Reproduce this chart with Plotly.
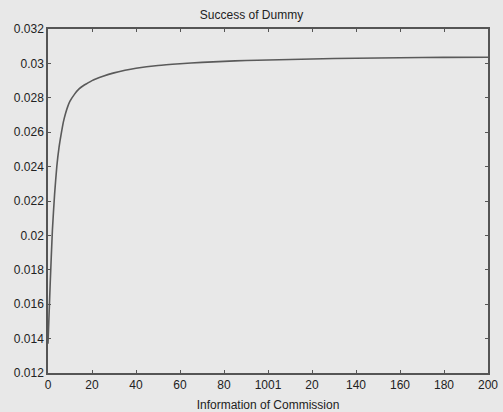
import plotly.graph_objects as go

x_vals = [0, 1, 2, 3, 4, 5, 6, 7, 8, 9, 10, 12, 14, 16, 18, 20, 25, 30, 35, 40, 50,
          60, 70, 80, 90, 100, 120, 140, 160, 180, 200]
y_vals = [0.0137, 0.0172, 0.0203, 0.0224, 0.0240, 0.0251, 0.0259, 0.0266, 0.0271,
          0.0275, 0.0278, 0.0282, 0.0285, 0.0287, 0.02885, 0.0290, 0.02925, 0.02945,
          0.0296, 0.02972, 0.02988, 0.02998, 0.03006, 0.03012, 0.03017, 0.0302,
          0.03026, 0.0303, 0.03033, 0.03035, 0.03036]

x_tick_vals = [0, 20, 40, 60, 80, 100, 120, 140, 160, 180, 200]
x_tick_text = ["0", "20", "40", "60", "80", "1001", "20", "140", "160", "180", "200"]
y_tick_vals = [0.012, 0.014, 0.016, 0.018, 0.020, 0.022, 0.024, 0.026, 0.028, 0.030, 0.032]
y_tick_text = ["0.012", "0.014", "0.016", "0.018", "0.02", "0.022", "0.024", "0.026",
               "0.028", "0.03", "0.032"]

fig = go.Figure()
fig.add_trace(go.Scatter(x=x_vals, y=y_vals, mode="lines",
                         line=dict(color="#5a5a5a", width=1.6, shape="spline", smoothing=0.5),
                         showlegend=False))

font_common = dict(family="Liberation Sans, Arial", size=12, color="#222222")
axis_common = dict(showgrid=False, zeroline=False, showline=True, linecolor="#555555",
                   linewidth=1.5, mirror="ticks", ticks="inside", ticklen=3,
                   tickcolor="#555555", tickfont=font_common, automargin=False)

fig.update_layout(
    width=503, height=412,
    margin=dict(l=48, r=15, t=29, b=39),
    paper_bgcolor="#e8e8e8", plot_bgcolor="#e8e8e8",
    title=dict(text="Success of Dummy", x=0.5, xanchor="center", y=0.965, yanchor="middle",
               font=font_common),
    xaxis=dict(range=[0, 200], tickmode="array", tickvals=x_tick_vals, ticktext=x_tick_text,
               title=dict(text="Information of Commission", font=font_common),
               **axis_common),
    yaxis=dict(range=[0.012, 0.032], tickmode="array", tickvals=y_tick_vals,
               ticktext=y_tick_text, **axis_common),
)

fig.write_html("out.html")
